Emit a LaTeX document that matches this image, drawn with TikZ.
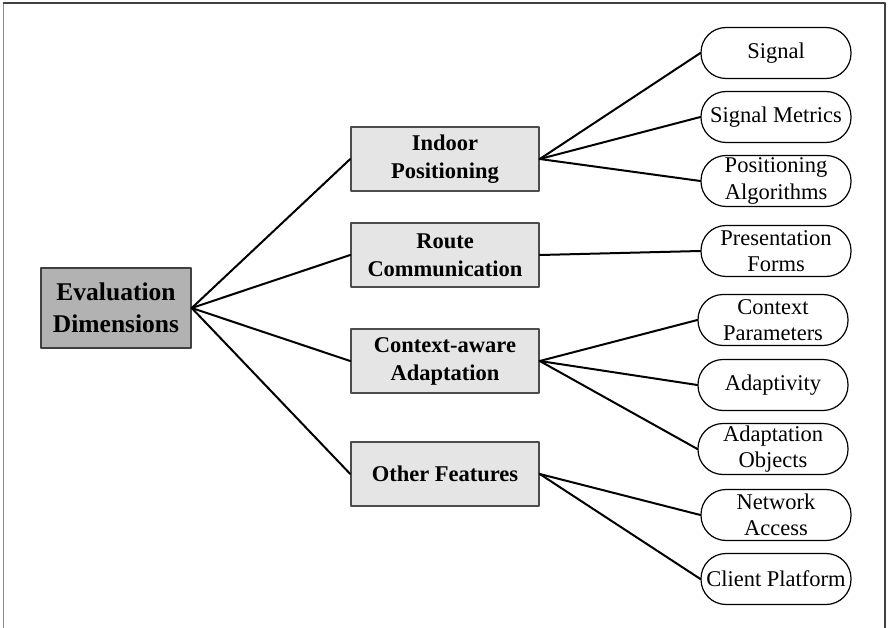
\documentclass[tikz,border=0pt]{standalone}
\usepackage{fontspec}
\setmainfont{Liberation Serif}
\tikzset{
  radice/.style={draw=black!75, fill=black!30, line width=1.5pt, minimum width=150pt, minimum height=80pt, inner sep=0pt, align=center, font=\fontsize{25.5}{32}\selectfont\bfseries},
  dimensione/.style={draw=black!70, fill=black!10, line width=1.5pt, minimum width=188pt, minimum height=64pt, inner sep=0pt, align=center, font=\fontsize{22.5}{28}\selectfont\bfseries},
  foglia/.style={draw, rounded corners=25pt, line width=1.2pt, minimum width=150pt, minimum height=51pt, inner sep=0pt, align=center, font=\fontsize{22.5}{26.5}\selectfont},
  ramo/.style={line width=2pt}
}
\begin{document}
\begin{tikzpicture}[x=1pt, y=-1pt, line cap=round, line join=round]
    \useasboundingbox (0,0) rectangle (888,628);
    % Cornice (senza bordo inferiore)
    \draw[black!45, line width=1.5pt] (3.5,628) -- (3.5,3);
    \draw[black!75, line width=1.5pt] (3.5,3) -- (885,3) -- (885,628);

    % Radice
    \node[radice] (eval) at (116,308) {Evaluation\\Dimensions};

    % Dimensioni
    \node[dimensione] (indoor) at (445,159) {Indoor\\Positioning};
    \node[dimensione] (route) at (445,255) {Route\\Communication};
    \node[dimensione] (context) at (445,361) {Context-aware\\Adaptation};
    \node[dimensione] (other) at (445,474) {Other Features};

    % Foglie
    \node[foglia] (signal) at (776,53) {Signal};
    \node[foglia] (metrics) at (776,117) {Signal Metrics};
    \node[foglia] (algo) at (776,181) {Positioning\\Algorithms};
    \node[foglia] (forms) at (776,251) {Presentation\\Forms};
    \node[foglia] (params) at (773,320) {Context\\Parameters};
    \node[foglia] (adapt) at (773,385) {Adaptivity};
    \node[foglia] (objects) at (773,449) {Adaptation\\Objects};
    \node[foglia] (network) at (776,515) {Network\\Access};
    \node[foglia] (client) at (776,579) {Client Platform};

    % Rami dalla radice
    \draw[ramo] (eval.east) -- (indoor.west);
    \draw[ramo] (eval.east) -- (route.west);
    \draw[ramo] (eval.east) -- (context.west);
    \draw[ramo] (eval.east) -- (other.west);

    % Rami verso le foglie
    \draw[ramo] (indoor.east) -- (signal.west);
    \draw[ramo] (indoor.east) -- (metrics.west);
    \draw[ramo] (indoor.east) -- (algo.west);
    \draw[ramo] (route.east) -- (forms.west);
    \draw[ramo] (context.east) -- (params.west);
    \draw[ramo] (context.east) -- (adapt.west);
    \draw[ramo] (context.east) -- (objects.west);
    \draw[ramo] (other.east) -- (network.west);
    \draw[ramo] (other.east) -- (client.west);
\end{tikzpicture}
\end{document}
